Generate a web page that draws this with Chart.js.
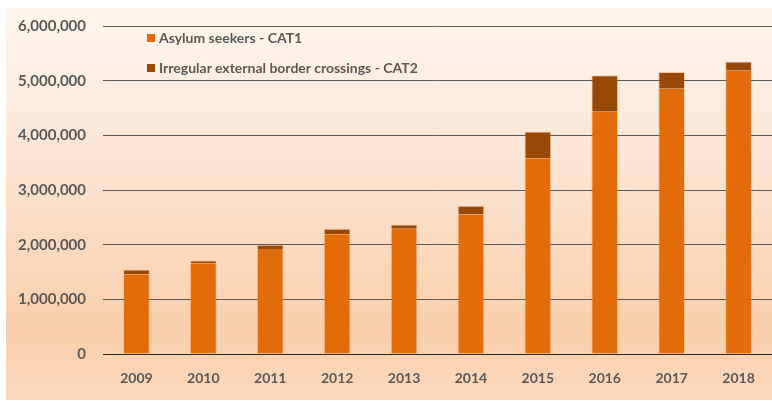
<!DOCTYPE html>
<html>
<head>
<meta charset="utf-8">
<script src="https://cdn.jsdelivr.net/npm/chart.js@4"></script>
<style>
  html, body { margin: 0; padding: 0; background: #ffffff; }
  .wrap { position: relative; width: 772px; height: 403px; }
  .panel {
    position: absolute; left: 6px; top: 8px; width: 766px; height: 392px;
    background: linear-gradient(to bottom, #fef6ef 0%, #fbe2cf 45%, #f9cfab 82%, #fbd8bd 100%);
  }
  canvas { position: absolute; left: 0; top: 0; }
  .legend { position: absolute; left: 147px; top: 29px; font: bold 14px Lato, sans-serif; color: #595959; }
  .legend div { height: 30px; line-height: 18px; }
  .legend span.sw { display: inline-block; width: 8px; height: 8px; margin-right: 4px; vertical-align: 1px; }
</style>
</head>
<body>
<div class="wrap">
  <div class="panel"></div>
  <canvas id="chart" width="772" height="403"></canvas>
  <div class="legend">
    <div><span class="sw" style="background:#e36c0a"></span>Asylum seekers - CAT1</div>
    <div><span class="sw" style="background:#984807"></span>Irregular external border crossings - CAT2</div>
  </div>
</div>
<script>
// data
const years = ['2009', '2010', '2011', '2012', '2013', '2014', '2015', '2016', '2017', '2018'];
const asylumCat1 = [1455000, 1660000, 1920000, 2190000, 2290000, 2550000, 3580000, 4430000, 4850000, 5180000];
const borderCat2 = [90000, 50000, 80000, 100000, 80000, 160000, 490000, 670000, 310000, 170000];
const yTicks = [0, 1000000, 2000000, 3000000, 4000000, 5000000, 6000000];

const xFont = { family: 'Lato, sans-serif', size: 14, weight: 'bold' };
const yFont = { family: 'Lato, sans-serif', size: 15, weight: 'bold' };

new Chart(document.getElementById('chart'), {
  type: 'bar',
  data: {
    labels: years,
    datasets: [
      {
        label: 'Asylum seekers - CAT1',
        data: asylumCat1,
        backgroundColor: '#e36c0a',
        borderColor: 'rgba(240,150,90,0.35)',
        borderWidth: { top: 0, left: 1, right: 1, bottom: 0 },
        barPercentage: 0.4,
        categoryPercentage: 1
      },
      {
        label: 'Irregular external border crossings - CAT2',
        data: borderCat2,
        backgroundColor: '#984807',
        borderColor: 'rgba(230,150,100,0.4)',
        borderWidth: { top: 1, left: 1, right: 1, bottom: 0 },
        barPercentage: 0.4,
        categoryPercentage: 1
      }
    ]
  },
  options: {
    responsive: false,
    animation: false,
    layout: { padding: { top: 24, right: 0, bottom: 0, left: 0 } },
    plugins: { legend: { display: false }, tooltip: { enabled: false } },
    scales: {
      x: {
        stacked: true,
        grid: { display: false, drawTicks: false },
        border: { display: true, color: '#262626', width: 1 },
        ticks: { color: '#595959', font: xFont, padding: 16, maxRotation: 0 },
        afterFit(scale) { scale.height = 49; }
      },
      y: {
        stacked: true,
        min: 0,
        max: 6000000,
        afterBuildTicks(scale) { scale.ticks = yTicks.map(v => ({ value: v })); },
        grid: {
          drawTicks: false,
          color: ctx => ctx.tick && ctx.tick.value === 0 ? '#262626' : '#5a5a5a',
          lineWidth: 1
        },
        border: { display: false },
        ticks: {
          color: '#595959',
          font: yFont,
          padding: 17,
          callback: v => v.toLocaleString('en-US')
        },
        afterFit(scale) { scale.width = 103; }
      }
    }
  }
});
</script>
</body>
</html>
